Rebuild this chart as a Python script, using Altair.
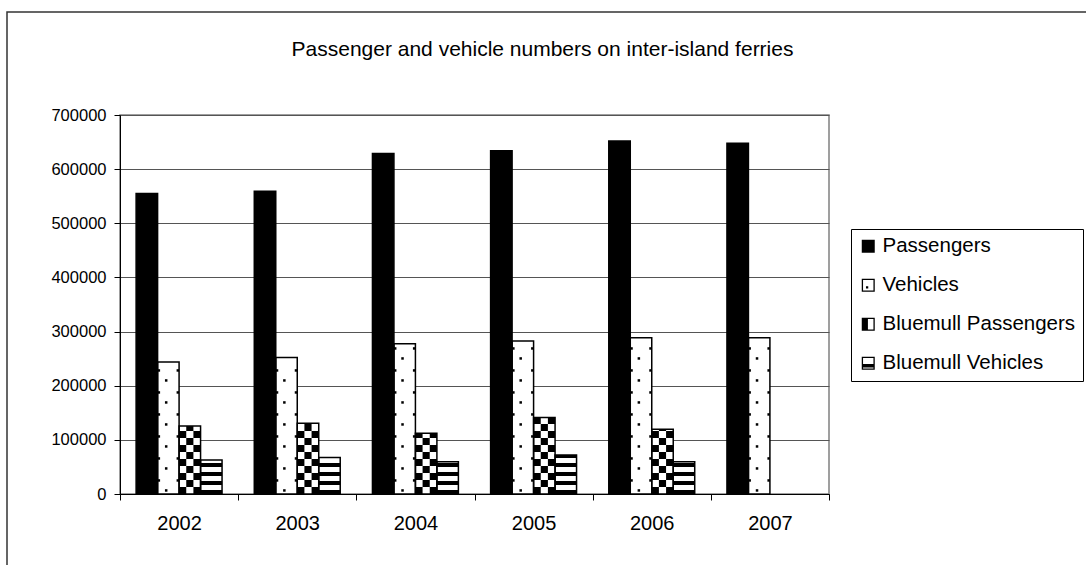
import altair as alt
import pandas as pd

# ---- values -------------------------------------------------------------
years = ["2002", "2003", "2004", "2005", "2006", "2007"]
series = ["Passengers", "Vehicles", "Bluemull Passengers", "Bluemull Vehicles"]
passengers = [555000, 559000, 629000, 634000, 652000, 648000]
vehicles = [244000, 252000, 277500, 282500, 288500, 288500]
bluemull_passengers = [125500, 130500, 112000, 141500, 119500, None]
bluemull_vehicles = [63000, 67500, 59500, 72000, 59500, None]
y_ticks = [0, 100000, 200000, 300000, 400000, 500000, 600000, 700000]

title_text = "Passenger and vehicle numbers on inter-island ferries"
FONT = "Liberation Sans"

# ---- layout -------------------------------------------------------------
PLOT_W, PLOT_H = 709, 379
Y_MAX = 700000
PX = Y_MAX / PLOT_H              # value units per pixel on the y scale
BAR = 1 / 5.5                    # bar width in category units (gap = 150 %)
EDGE = 0.75 * BAR                # half of the gap on each side of a group
XPX = len(years) / PLOT_W        # category units per pixel on the x scale

columns = [passengers, vehicles, bluemull_passengers, bluemull_vehicles]

rows = []
for i, year in enumerate(years):
    for j, (name, vals) in enumerate(zip(series, columns)):
        v = vals[i]
        if v is None:
            continue
        x0 = i + EDGE + j * BAR
        rows.append({"year": year, "series": name, "value": v,
                     "x0": x0, "x1": x0 + BAR, "xm": x0 + BAR / 2})
bars = pd.DataFrame(rows)

# ---- fill patterns, built from each bar's extent --------------------------
cells = []
for r in bars.itertuples():
    if r.series == "Bluemull Passengers":          # checker board
        h = 7 * PX
        k = 0
        while k * h < r.value:
            for c in range(3):
                if (k + c) % 2 == 0:
                    cells.append({"x0": r.x0 + c * BAR / 3, "x1": r.x0 + (c + 1) * BAR / 3,
                                  "y0": k * h, "y1": min((k + 1) * h, r.value)})
            k += 1
    elif r.series == "Bluemull Vehicles":          # horizontal stripes
        period, thick = 9 * PX, 4 * PX
        k = 0
        while k * period < r.value:
            cells.append({"x0": r.x0, "x1": r.x1,
                          "y0": k * period, "y1": min(k * period + thick, r.value)})
            k += 1
    elif r.series == "Vehicles":                   # sparse dots
        period, dot = 22 * PX, 2.5 * PX
        dw = 2.5 * XPX
        for start, xs in ((2.3 * PX, [r.x0 + 0.4 * BAR - dw / 2]),
                          (12.3 * PX, [r.x0, r.x1 - dw])):
            y = start
            while y + dot < r.value - 2 * PX:
                for xa in xs:
                    cells.append({"x0": xa, "x1": xa + dw, "y0": y, "y1": y + dot})
                y += period
pattern = pd.DataFrame(cells)

# ---- scales / axes --------------------------------------------------------
years_js = "[" + ",".join(f"'{y}'" for y in years) + "]"
x_scale = alt.Scale(domain=[0, len(years)], nice=False, zero=False)
y_scale = alt.Scale(domain=[0, Y_MAX], nice=False)

x_axis = alt.Axis(values=list(range(len(years) + 1)), labelExpr=f"{years_js}[datum.value] || ''",
                  labelOffset=PLOT_W / len(years) / 2, labelFlush=False, labelOverlap=False,
                  title=None, grid=False, tickSize=6, tickColor="black", domainColor="black",
                  labelFont=FONT, labelFontSize=20, labelColor="black", labelPadding=13)
y_axis = alt.Axis(values=y_ticks, format="d", title=None, grid=True, gridColor="#555555",
                  tickSize=6, tickColor="black", domainColor="black",
                  labelFont=FONT, labelFontSize=16.5, labelColor="black", labelPadding=8)

X = alt.X("x0:Q", scale=x_scale, axis=x_axis)
Y = alt.Y("value:Q", scale=y_scale, axis=y_axis)

# outer border of the whole figure
frame = alt.Chart(pd.DataFrame({"k": [0]})).mark_rect(
    fillOpacity=0, stroke="#333333", strokeWidth=1.5
).encode(x=alt.value(-113), x2=alt.value(1100), y=alt.value(-103), y2=alt.value(600))

# solid black for passengers, white ground for the patterned series
fills = alt.Chart(bars).mark_rect(strokeWidth=0).encode(
    x=X, x2="x1:Q", y=Y, y2=alt.datum(0),
    fill=alt.condition(alt.datum.series == series[0], alt.value("black"), alt.value("white")),
)

patterns = alt.Chart(pattern).mark_rect(color="black", strokeWidth=0).encode(
    x=alt.X("x0:Q", scale=x_scale, axis=x_axis), x2="x1:Q",
    y=alt.Y("y0:Q", scale=y_scale, axis=y_axis), y2="y1:Q",
)

outlines = alt.Chart(bars).mark_rect(filled=False, stroke="black", strokeWidth=1.5).encode(
    x=X, x2="x1:Q", y=Y, y2=alt.datum(0),
)

# legend swatches: small pattern glyphs drawn as filled paths
ring = "M-1,-1H1V1H-1Z M-0.8,-0.8V0.8H0.8V-0.8Z"
glyphs = [
    "M-1,-1H1V1H-1Z",
    ring + " M-0.35,0.15H0V0.5H-0.35Z",
    ring + " M-0.8,-0.8H-0.05V0.8H-0.8Z",
    ring + " M-0.8,0.1H0.8V0.65H-0.8Z",
]
keys = alt.Chart(bars).mark_point(filled=True, color="black", opacity=0).encode(
    x=alt.X("xm:Q", scale=x_scale, axis=x_axis),
    y=Y,
    shape=alt.Shape("series:N", scale=alt.Scale(domain=series, range=glyphs),
                    legend=alt.Legend(title=None, orient="none", legendX=731, legendY=114,
                                      padding=7, strokeColor="black", fillColor="white",
                                      labelFont=FONT, labelFontSize=20.5, labelColor="black",
                                      labelLimit=400, labelOffset=4,
                                      symbolSize=169, symbolStrokeWidth=0,
                                      symbolFillColor="black", symbolOpacity=1,
                                      rowPadding=18)),
)

chart = alt.layer(frame, fills, patterns, outlines, keys).properties(
    width=PLOT_W, height=PLOT_H,
    autosize="none",
    padding={"left": 120, "top": 115, "right": 257, "bottom": 71},
    background="white",
    title=alt.TitleParams(title_text, font=FONT, fontSize=21, fontWeight="normal",
                          color="black", anchor="middle", frame="group",
                          baseline="middle", offset=0, dx=68, dy=60),
).configure_view(stroke="#808080", strokeWidth=1.5)

chart.save("out.html", embed_options={"renderer": "svg", "actions": False})
